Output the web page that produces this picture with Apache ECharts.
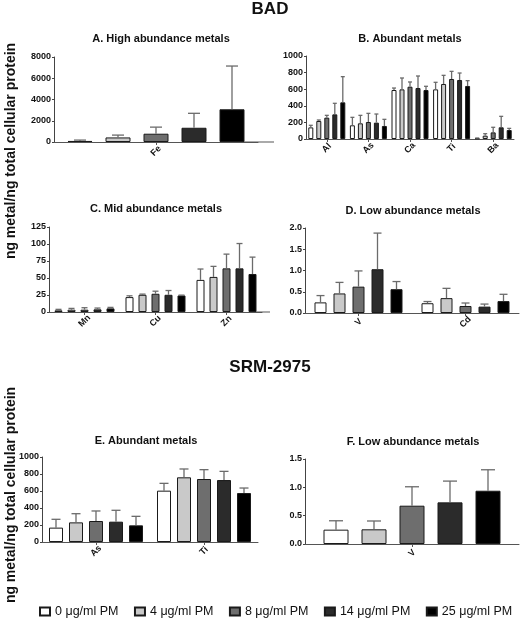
<!DOCTYPE html>
<html><head><meta charset="utf-8">
<script src="https://cdn.jsdelivr.net/npm/echarts@6/dist/echarts.min.js"></script>
<style>html,body{margin:0;padding:0;background:#fff}#c{width:522px;height:631px}</style>
</head><body><div id="c"></div>
<script>
// ---- data ----
const concLabels = ['0 μg/ml PM', '4 μg/ml PM', '8 μg/ml PM', '14 μg/ml PM', '25 μg/ml PM'];

// A. High abundance metals (BAD)
const catsA = ['Fe'];
const meanA = [[100], [430], [780], [1340], [3080]];
const sdA   = [[80], [220], [620], [1360], [4070]];

// B. Abundant metals (BAD)
const catsB = ['Al', 'As', 'Ca', 'Ti', 'Ba'];
const meanB = [[140, 165, 590, 598, 8], [217, 189, 598, 663, 40], [257, 205, 630, 723, 80], [297, 197, 614, 711, 141], [442, 157, 590, 639, 108]];
const sdB   = [[25, 96, 24, 85, 4], [12, 96, 137, 104, 24], [28, 104, 57, 92, 61], [133, 104, 145, 84, 132], [309, 80, 45, 64, 20]];

// C. Mid abundance metals (BAD)
const catsC = ['Mn', 'Cu', 'Zn'];
const meanC = [[2.4, 21.9, 47.2], [3.4, 25.3, 51.6], [3.4, 26.8, 64.2], [3.9, 25.3, 64.2], [5.3, 24.3, 55.9]];
const sdC   = [[1.5, 1.9, 16], [1.9, 1.0, 15.5], [2.9, 3.8, 20.9], [1.9, 6.3, 36.5], [1.5, 0.5, 24.8]];

// D. Low abundance metals (BAD)
const catsD = ['V', 'Cd'];
const meanD = [[0.25, 0.23], [0.46, 0.35], [0.62, 0.165], [1.03, 0.15], [0.56, 0.28]];
const sdD   = [[0.16, 0.04], [0.26, 0.23], [0.37, 0.07], [0.85, 0.06], [0.18, 0.16]];

// E. Abundant metals (SRM-2975)
const catsE = ['As', 'Ti'];
const meanE = [[169, 604], [231, 761], [247, 741], [239, 729], [196, 576]];
const sdE   = [[98, 86], [102, 98], [118, 110], [134, 102], [106, 59]];

// F. Low abundance metals (SRM-2975)
const catsF = ['V'];
const meanF = [[0.253], [0.259], [0.676], [0.735], [0.94]];
const sdF   = [[0.157], [0.147], [0.334], [0.375], [0.37]];

// y-axis ticks [min, max, interval]
const ticksA = [0, 8000, 2000];
const ticksB = [0, 1000, 200];
const ticksC = [0, 125, 25];
const ticksD = [0, 2.0, 0.5];
const ticksE = [0, 1000, 200];
const ticksF = [0, 1.5, 0.5];

// ---- styling ----
const FONT = '"Liberation Sans", Arial, sans-serif';
const barColors = ['#ffffff', '#c9c9c9', '#6e6e6e', '#2b2b2b', '#000000'];
const errColor = '#6b6b6b';

const grids = [], xAxes = [], yAxes = [], series = [];

function panel(k, grid, cats, means, sds, ticks, dec, barW, gap, cap, axisExt) {
  grids.push(grid);
  const axisLine = { lineStyle: { color: '#555', width: 1 } };
  if (axisExt) {
    axisLine.symbol = ['none', 'rect'];
    axisLine.symbolSize = [1, axisExt * 2];
  }
  xAxes.push({
    type: 'category', gridIndex: k, data: cats,
    axisLine: axisLine,
    axisTick: { show: true, alignWithLabel: true, length: 3, lineStyle: { color: '#555' } },
    axisLabel: { rotate: 45, align: 'center', verticalAlign: 'middle',
      fontFamily: FONT, fontWeight: 'bold', fontSize: 9, color: '#111', margin: 9 }
  });
  yAxes.push({
    type: 'value', gridIndex: k, min: ticks[0], max: ticks[1], interval: ticks[2],
    splitLine: { show: false },
    axisLine: { show: true, lineStyle: { color: '#444', width: 1 } },
    axisTick: { show: true, length: 2, lineStyle: { color: '#444' } },
    axisLabel: { fontFamily: FONT, fontWeight: 'bold', fontSize: 9, color: '#111', margin: 3,
      formatter: v => dec ? v.toFixed(1) : String(v) }
  });
  for (let i = 0; i < 5; i++) {
    series.push({
      type: 'bar', name: concLabels[i], xAxisIndex: k, yAxisIndex: k,
      data: means[i], barWidth: barW, barGap: (gap / barW * 100) + '%',
      itemStyle: { color: barColors[i], borderColor: '#1a1a1a', borderWidth: 1 },
      silent: true, animation: false
    });
  }
  const errData = [];
  for (let i = 0; i < 5; i++) {
    for (let j = 0; j < cats.length; j++) {
      errData.push([j, means[i][j] + sds[i][j], means[i][j], i]);
    }
  }
  series.push({
    type: 'custom', xAxisIndex: k, yAxisIndex: k, data: errData,
    encode: { x: 0, y: 1 }, z: 5, silent: true, animation: false,
    renderItem: (params, api) => {
      const ci = api.value(0), si = api.value(3);
      const p1 = api.coord([ci, api.value(2)]);
      const p2 = api.coord([ci, api.value(1)]);
      const x = p1[0] + (si - 2) * (barW + gap);
      const c = cap / 2;
      return { type: 'group', children: [
        { type: 'line', shape: { x1: x, y1: p1[1], x2: x, y2: p2[1] }, style: { stroke: errColor, lineWidth: 1.3 } },
        { type: 'line', shape: { x1: x - c, y1: p2[1], x2: x + c, y2: p2[1] }, style: { stroke: errColor, lineWidth: 1.3 } }
      ] };
    }
  });
}

panel(0, { left: 54, top: 57, width: 204, height: 85 }, catsA, meanA, sdA, ticksA, false, 25, 13, 12, 16);
panel(1, { left: 306, top: 56, width: 208, height: 83 }, catsB, meanB, sdB, ticksB, false, 5, 3, 4, 0);
panel(2, { left: 49, top: 227, width: 213, height: 85 }, catsC, meanC, sdC, ticksC, false, 8, 5, 6, 8);
panel(3, { left: 305, top: 228, width: 214, height: 85 }, catsD, meanD, sdD, ticksD, true, 12, 7, 8, 0);
panel(4, { left: 42, top: 457, width: 216, height: 85 }, catsE, meanE, sdE, ticksE, false, 14, 6, 9, 0);
panel(5, { left: 305, top: 459, width: 214, height: 85 }, catsF, meanF, sdF, ticksF, true, 25, 13, 14, 0);

function txt(text, x, y, size, bold, rot) {
  return {
    type: 'text', x: x, y: y, rotation: rot || 0, silent: true,
    style: { text: text, font: (bold ? 'bold ' : '') + size + 'px ' + FONT, fill: '#111',
      align: 'center', verticalAlign: 'middle', textAlign: 'center', textVerticalAlign: 'middle' }
  };
}

const yName = 'ng metal/ng total cellular protein';
const graphics = [
  txt('BAD', 270, 9, 17, true),
  txt('SRM-2975', 270, 367, 17, true),
  txt('A. High abundance metals', 161, 39, 11, true),
  txt('B. Abundant metals', 410, 39, 11, true),
  txt('C. Mid abundance metals', 156, 209, 11, true),
  txt('D. Low abundance metals', 413, 211, 11, true),
  txt('E. Abundant metals', 146, 441, 11, true),
  txt('F. Low abundance metals', 413, 442, 11, true),
  txt(yName, 11, 151, 14, true, Math.PI / 2),
  txt(yName, 11, 495, 14, true, Math.PI / 2)
];

const chart = echarts.init(document.getElementById('c'), null, { renderer: 'canvas' });
chart.setOption({
  animation: false,
  backgroundColor: '#fff',
  grid: grids, xAxis: xAxes, yAxis: yAxes, series: series,
  graphic: graphics,
  legend: {
    data: concLabels, left: 39, top: 605, padding: 0, icon: 'rect',
    itemWidth: 10, itemHeight: 8, itemGap: 15.5,
    textStyle: { fontFamily: FONT, fontSize: 12.5, color: '#111' },
    selectedMode: false
  }
});
</script></body></html>
